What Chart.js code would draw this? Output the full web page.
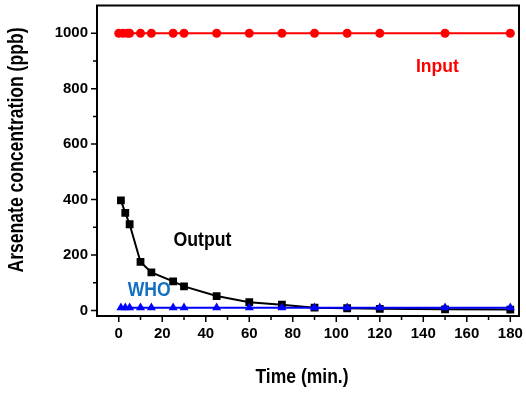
<!DOCTYPE html>
<html>
<head>
<meta charset="utf-8">
<script src="https://cdn.jsdelivr.net/npm/chart.js@4.4.1/dist/chart.umd.min.js"></script>
<style>
    html, body { margin: 0; padding: 0; background: #fff; }
    #wrap { width: 526px; height: 393px; }
</style>
</head>
<body>
<div id="wrap"><canvas id="arsenicChart"></canvas></div>
<script>
// Data
const inputTime = [0, 2, 4, 5, 10, 15, 25, 30, 45, 60, 75, 90, 105, 120, 150, 180];
const inputConc = [1000, 1000, 1000, 1000, 1000, 1000, 1000, 1000, 1000, 1000, 1000, 1000, 1000, 1000, 1000, 1000];

const outputTime = [1, 3, 5, 10, 15, 25, 30, 45, 60, 75, 90, 105, 120, 150, 180];
const outputConc = [397, 352, 311, 175, 137, 105, 87, 52, 30, 21, 10, 8, 6, 4, 3];

const whoTime = [1, 3, 5, 10, 15, 25, 30, 45, 60, 75, 90, 105, 120, 150, 180];
const whoConc = [10, 10, 10, 10, 10, 10, 10, 10, 10, 10, 10, 10, 10, 10, 10];

const xTickValues = [0, 10, 20, 30, 40, 50, 60, 70, 80, 90, 100, 110, 120, 130, 140, 150, 160, 170, 180];
const yTickValues = [0, 100, 200, 300, 400, 500, 600, 700, 800, 900, 1000];

// Text labels inside the plot, placed in data units (maxW squeezes to a narrow face)
const seriesLabels = [
    { text: 'Input', x: 146.5, y: 878, color: '#ff0000', size: 19, maxW: 43 },
    { text: 'Output', x: 38.5, y: 252, color: '#000000', size: 20, maxW: 58 },
    { text: 'WHO', x: 14, y: 72, color: '#1470c0', size: 20, maxW: 43 }
];

const X_TITLE = 'Time (min.)';
const Y_TITLE = 'Arsenate concentration (ppb)';

const FONT = "'Liberation Sans', Arial, sans-serif";

function toPoints(xs, ys) {
    return xs.map((x, i) => ({ x: x, y: ys[i] }));
}

// frame around plot area, tick marks, axis titles and text labels
const framePlugin = {
    id: 'frame',
    afterDraw(chart) {
        const ctx = chart.ctx;
        const a = chart.chartArea;
        const xs = chart.scales.x;
        const ys = chart.scales.y;
        ctx.save();
        ctx.strokeStyle = '#000';
        ctx.lineWidth = 2;
        ctx.strokeRect(a.left, a.top, a.right - a.left, a.bottom - a.top);

        // tick marks, major longer than minor
        ctx.lineWidth = 1.5;
        ctx.beginPath();
        xTickValues.forEach(v => {
            const px = xs.getPixelForValue(v);
            const len = v % 20 === 0 ? 6 : 4;
            ctx.moveTo(px, a.bottom);
            ctx.lineTo(px, a.bottom + len);
        });
        yTickValues.forEach(v => {
            const py = ys.getPixelForValue(v);
            const len = v % 200 === 0 ? 6 : 4;
            ctx.moveTo(a.left, py);
            ctx.lineTo(a.left - len, py);
        });
        ctx.stroke();

        ctx.textAlign = 'center';
        ctx.textBaseline = 'middle';

        // axis titles (narrow, tall lettering like the original)
        ctx.fillStyle = '#000';
        ctx.font = 'bold 21px ' + FONT;
        ctx.fillText(X_TITLE, 302, 377, 93);

        ctx.save();
        ctx.translate(17, 150);
        ctx.rotate(-Math.PI / 2);
        ctx.font = 'bold 22px ' + FONT;
        ctx.fillText(Y_TITLE, 0, 0, 245);
        ctx.restore();

        seriesLabels.forEach(l => {
            ctx.fillStyle = l.color;
            ctx.font = 'bold ' + l.size + 'px ' + FONT;
            ctx.fillText(l.text, xs.getPixelForValue(l.x), ys.getPixelForValue(l.y), l.maxW);
        });
        ctx.restore();
    }
};

const config = {
    type: 'scatter',
    data: {
        datasets: [
            {
                label: 'WHO',
                data: toPoints(whoTime, whoConc),
                showLine: true,
                borderColor: '#0000ff',
                backgroundColor: '#0000ff',
                borderWidth: 2,
                pointStyle: 'triangle',
                pointRadius: 5.2,
                pointBorderWidth: 0
            },
            {
                label: 'Output',
                data: toPoints(outputTime, outputConc),
                showLine: true,
                borderColor: '#000000',
                backgroundColor: '#000000',
                borderWidth: 2,
                pointStyle: 'rect',
                pointRadius: 5.5,
                pointBorderWidth: 0
            },
            {
                label: 'Input',
                data: toPoints(inputTime, inputConc),
                showLine: true,
                borderColor: '#ff0000',
                backgroundColor: '#ff0000',
                borderWidth: 2,
                pointStyle: 'circle',
                pointRadius: 4.5,
                pointBorderWidth: 0
            }
        ]
    },
    options: {
        responsive: true,
        maintainAspectRatio: false,
        animation: false,
        layout: {
            padding: { top: 4, right: 7, left: 0, bottom: 0 }
        },
        plugins: {
            legend: { display: false },
            tooltip: { enabled: false }
        },
        scales: {
            x: {
                type: 'linear',
                min: -10,
                max: 184,
                afterBuildTicks: function(scale) {
                    scale.ticks = xTickValues.map(v => ({ value: v }));
                },
                afterFit: function(scale) {
                    scale.height = 77;
                    scale.paddingLeft = 0;
                    scale.paddingRight = 0;
                },
                grid: { display: false, drawTicks: false },
                border: { display: false },
                ticks: {
                    autoSkip: false,
                    maxRotation: 0,
                    padding: 9,
                    color: '#000',
                    font: { family: FONT, size: 15, weight: 'bold' },
                    callback: function(value) {
                        return value % 20 === 0 ? value : '';
                    }
                },
                title: { display: false }
            },
            y: {
                type: 'linear',
                min: -20,
                max: 1100,
                afterBuildTicks: function(scale) {
                    scale.ticks = yTickValues.map(v => ({ value: v }));
                },
                afterFit: function(scale) {
                    scale.width = 97;
                    scale.paddingTop = 0;
                    scale.paddingBottom = 0;
                },
                grid: { display: false, drawTicks: false },
                border: { display: false },
                ticks: {
                    autoSkip: false,
                    padding: 9,
                    color: '#000',
                    font: { family: FONT, size: 15, weight: 'bold' },
                    callback: function(value) {
                        return value % 200 === 0 ? value : '';
                    }
                },
                title: { display: false }
            }
        }
    },
    plugins: [framePlugin]
};

new Chart(document.getElementById('arsenicChart'), config);
</script>
</body>
</html>
